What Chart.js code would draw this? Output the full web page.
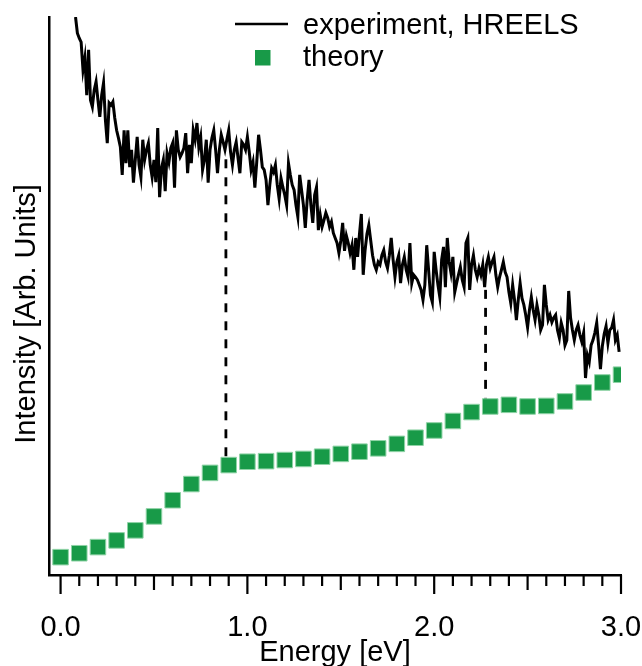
<!DOCTYPE html>
<html>
<head>
<meta charset="utf-8">
<script src="https://cdn.jsdelivr.net/npm/chart.js@4.4.0/dist/chart.umd.min.js"></script>
<style>
  html, body { margin: 0; padding: 0; background: #fff; }
  canvas { display: block; }
</style>
</head>
<body>
<canvas id="grafico" width="642" height="666"></canvas>
<script>
// experiment (HREELS): first energy, spacing, intensity (arb. units)
var expStart = 0.08;
var expStep = 0.01;
var expIntensity = [
  100, 97.1, 96.2, 95.5, 90.5, 92.7, 86.0, 94.1, 85.1, 83.9,
  86.9, 88.4, 85.1, 82.1, 86.0, 88.2, 81.5, 77.4, 84.6, 84.2,
  84.8, 81.9, 79.7, 78.3, 76.7, 71.7, 79.7, 73.8, 79.7, 73.1,
  76.2, 70.3, 74.4, 78.5, 73.5, 71.3, 78.0, 74.4, 76.2, 77.4,
  73.5, 71.3, 74.4, 70.4, 80.1, 67.7, 72.9, 74.4, 68.8, 75.6,
  74.0, 76.5, 77.4, 69.4, 79.7, 76.2, 74.9, 75.6, 76.5, 79.2,
  72.0, 77.1, 73.8, 79.7, 78.0, 81.0, 76.7, 78.5, 72.6, 74.4,
  78.0, 70.3, 76.2, 78.3, 79.7, 76.2, 72.0, 76.2, 78.9, 77.6,
  76.2, 78.0, 79.7, 75.8, 73.5, 76.2, 77.6, 74.7, 72.0, 77.6,
  77.1, 76.2, 78.5, 75.8, 72.6, 74.0, 69.4, 74.0, 78.9, 76.2,
  73.1, 72.6, 70.8, 66.3, 69.9, 72.9, 72.2, 73.5, 69.9, 67.4,
  71.1, 69.5, 68.1, 66.3, 73.8, 71.7, 69.9, 69.0, 66.3, 64.2,
  71.7, 69.0, 66.3, 62.2, 67.2, 70.8, 66.3, 63.1, 68.1, 69.5,
  61.8, 64.5, 62.4, 63.6, 64.9, 64.0, 62.4, 63.3, 61.3, 60.4,
  59.5, 57.7, 59.9, 63.1, 58.1, 60.8, 59.5, 57.7, 59.1, 54.7,
  60.4, 57.0, 61.1, 64.7, 53.8, 58.2, 61.1, 62.7, 60.0, 57.3,
  55.6, 54.7, 56.1, 55.6, 57.3, 58.2, 56.1, 55.0, 57.3, 60.4,
  56.5, 53.4, 56.1, 57.3, 52.3, 55.6, 57.0, 54.7, 53.4, 59.5,
  52.3, 53.8, 53.4, 52.9, 52.0, 51.1, 49.3, 52.0, 59.1, 54.7,
  50.2, 48.9, 57.9, 54.7, 52.0, 49.8, 56.5, 58.8, 51.6, 60.4,
  56.1, 54.1, 57.0, 50.7, 52.3, 53.8, 55.2, 52.9, 51.6, 59.5,
  60.4, 51.1, 55.6, 57.3, 54.7, 53.4, 55.0, 53.8, 55.6, 51.6,
  55.6, 57.0, 55.0, 56.1, 57.0, 53.8, 51.6, 53.4, 54.7, 56.1,
  54.3, 53.4, 50.7, 48.7, 52.0, 49.3, 45.7, 49.3, 52.3, 49.6,
  48.4, 46.6, 44.4, 47.5, 49.8, 47.5, 45.7, 48.4, 46.6, 43.9,
  44.8, 52.0, 48.4, 45.7, 46.6, 45.3, 46.1, 46.6, 43.9, 42.5,
  45.2, 43.9, 41.2, 42.1, 50.9, 46.1, 43.9, 42.1, 43.9, 44.8,
  43.0, 41.8, 43.4, 35.3, 39.4, 38.2, 41.2, 42.1, 43.4, 45.2,
  41.2, 36.9, 41.0, 43.2, 44.6, 41.6, 43.9, 44.3, 45.7, 42.1,
  43.0, 40.0
];

// theory
var theoryEnergy = [0.0, 0.1, 0.2, 0.3, 0.4, 0.5, 0.6, 0.7, 0.8, 0.9,
  1.0, 1.1, 1.2, 1.3, 1.4, 1.5, 1.6, 1.7, 1.8, 1.9,
  2.0, 2.1, 2.2, 2.3, 2.4, 2.5, 2.6, 2.7, 2.8, 2.9, 3.0];
var theoryIntensity = [3.2, 3.9, 5.0, 6.2, 8.0, 10.5, 13.4, 16.3, 18.3, 19.7,
  20.3, 20.4, 20.6, 20.8, 21.2, 21.7, 22.1, 22.7, 23.5, 24.6,
  25.9, 27.6, 29.2, 30.2, 30.5, 30.2, 30.3, 31.1, 32.7, 34.5, 35.9];

// dashed guide lines: energy, top, bottom
var guideEnergy = [0.885, 2.275];
var guideTop = [74.5, 51.1];
var guideBottom = [21.0, 31.4];

var labelExp = 'experiment, HREELS';
var labelTheory = 'theory';
var xTitle = 'Energy [eV]';
var yTitle = 'Intensity [Arb. Units]';

var fuente = '"Liberation Sans", Arial, Helvetica, sans-serif';
var verde = '#189a48';

var expPoints = expIntensity.map(function(v, i) {
  return {x: Math.round((expStart + i * expStep) * 100) / 100, y: v};
});
var theoryPoints = theoryEnergy.map(function(e, i) {
  return {x: e, y: theoryIntensity[i]};
});

var datasets = [
  {
    label: labelExp,
    data: expPoints,
    borderColor: '#000',
    borderWidth: 3,
    pointRadius: 0,
    tension: 0,
    order: 2
  },
  {
    label: labelTheory,
    data: theoryPoints,
    showLine: false,
    pointStyle: 'rect',
    pointRadius: 11,
    backgroundColor: verde,
    borderColor: '#8fd3a6',
    borderWidth: 1,
    order: 1
  }
];
guideEnergy.forEach(function(e, i) {
  datasets.push({
    label: 'guide' + i,
    data: [{x: e, y: guideTop[i]}, {x: e, y: guideBottom[i]}],
    borderColor: '#000',
    borderWidth: 2.8,
    borderDash: [9, 9],
    pointRadius: 0,
    order: 3
  });
});

// tick marks: long at whole eV, medium at half, short at 0.1
var marcas = {
  id: 'marcas',
  afterDraw: function(chart) {
    var x = chart.scales.x;
    var ctx = chart.ctx;
    var y0 = chart.chartArea.bottom;
    ctx.save();
    ctx.strokeStyle = '#000';
    ctx.lineWidth = 2.2;
    x.ticks.forEach(function(t) {
      var n = Math.round(t.value * 10);
      var largo = n % 10 === 0 ? 19 : (n % 5 === 0 ? 15 : 11);
      var px = x.getPixelForValue(t.value);
      ctx.beginPath();
      ctx.moveTo(px, y0);
      ctx.lineTo(px, y0 + largo);
      ctx.stroke();
    });
    ctx.restore();
  }
};

// legend inside the plot (top right) and the rotated y title
var leyenda = {
  id: 'leyenda',
  afterDraw: function(chart) {
    var ctx = chart.ctx;
    var ds = chart.data.datasets;
    ctx.save();
    ctx.font = '29px ' + fuente;
    ctx.textBaseline = 'alphabetic';
    ctx.strokeStyle = ds[0].borderColor;
    ctx.lineWidth = 2.4;
    ctx.beginPath();
    ctx.moveTo(235, 24);
    ctx.lineTo(288, 24);
    ctx.stroke();
    ctx.fillStyle = '#000';
    ctx.fillText(ds[0].label, 303, 34);
    ctx.fillStyle = ds[1].backgroundColor;
    ctx.fillRect(255, 50, 15.5, 15.5);
    ctx.fillStyle = '#000';
    ctx.fillText(ds[1].label, 303, 66);

    ctx.translate(27, 314);
    ctx.rotate(-Math.PI / 2);
    ctx.textAlign = 'center';
    ctx.textBaseline = 'middle';
    ctx.fillText(yTitle, 0, 0);
    ctx.restore();
  }
};

new Chart(document.getElementById('grafico'), {
  type: 'line',
  data: { datasets: datasets },
  plugins: [marcas, leyenda],
  options: {
    responsive: false,
    animation: false,
    events: [],
    layout: { padding: { left: 6, top: 17, right: 21, bottom: 0 } },
    plugins: {
      legend: { display: false },
      tooltip: { enabled: false }
    },
    scales: {
      x: {
        type: 'linear',
        min: -0.062,
        max: 3.0,
        afterFit: function(s) { s.height = 91; },
        grid: {
          display: true,
          drawOnChartArea: false,
          drawTicks: true,
          tickLength: 36,
          tickColor: 'rgba(0,0,0,0)'
        },
        border: { display: true, color: '#000', width: 2.5 },
        ticks: {
          stepSize: 0.1,
          includeBounds: false,
          autoSkip: false,
          maxTicksLimit: 100,
          maxRotation: 0,
          padding: 0,
          color: '#000',
          font: { family: fuente, size: 29 },
          callback: function(v) {
            return Math.abs(v - Math.round(v)) < 1e-6 ? v.toFixed(1) : '';
          }
        },
        title: {
          display: true,
          text: xTitle,
          color: '#000',
          font: { family: fuente, size: 29, lineHeight: 0.9 },
          padding: { top: 0, bottom: 0 }
        }
      },
      y: {
        min: 0,
        max: 100,
        afterFit: function(s) { s.width = 43; },
        grid: { display: false },
        border: { display: true, color: '#000', width: 2.5 },
        ticks: { display: false }
      }
    }
  }
});
</script>
</body>
</html>
